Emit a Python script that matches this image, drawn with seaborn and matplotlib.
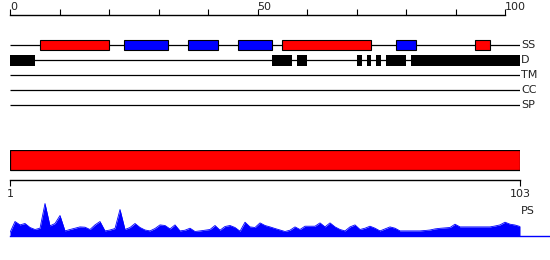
import numpy as np
import pandas as pd
import seaborn as sns
import matplotlib
matplotlib.use("Agg")
import matplotlib.pyplot as plt

# ---------------- data ----------------
LENGTH = 103
track_names = ["SS", "D", "TM", "CC", "SP"]

ss_start = [6, 23, 36, 46, 55, 78, 94]
ss_end = [20, 32, 42, 53, 73, 82, 97]
ss_type = ["helix", "strand", "strand", "strand", "helix", "strand", "helix"]

d_start = [0, 53, 58, 70, 72, 74, 76, 81]
d_end = [5, 57, 60, 71, 73, 75, 80, 103]

ruler_major = [0, 50, 100]
ruler_minor = [10, 20, 30, 40, 60, 70, 80, 90]

ps_ticks = [1, 103]
ps_values = [3, 14, 10.6, 12, 8, 6, 7.3, 32, 9.6, 12,
             20, 4.6, 6, 7.3, 8.6, 8.3, 6, 10.6, 14, 4.6,
             5.5, 7, 26, 6, 8, 12, 8, 5.5, 4.6, 7,
             10.6, 10, 6.6, 10.6, 4.6, 5.3, 7.3, 4, 4.6, 5.3,
             6, 10, 5.3, 9, 10, 8, 4.3, 13.3, 8.6, 8,
             12.6, 10, 8.6, 7, 5.5, 4, 5.3, 8.6, 6, 9.3,
             9.3, 9.3, 12.6, 8.6, 12.6, 8.6, 6, 4.6, 8.6, 10.6,
             6, 7.3, 9.3, 7.3, 4.6, 6.6, 8.6, 7.3, 4.6, 4.6,
             4.6, 4.6, 4.6, 5, 5.5, 6.6, 7.2, 7.6, 8, 11.3,
             8.6, 8.6, 8.6, 8.6, 8.6, 8.6, 8.6, 9.5, 10.6, 13.3,
             11.3, 10.5, 9]
ps_pos = list(range(1, LENGTH + 1))

colors = {"helix": "#ff0000", "strand": "#0000ff"}

# ---------------- style ----------------
sns.set_style("white")
plt.rcParams["font.family"] = ["DejaVu Sans"]
plt.rcParams["font.size"] = 8

W, H = 550, 260
fig = plt.figure(figsize=(W / 100, H / 100), dpi=100)


def ax_px(x0, y0, x1, y1):
    return fig.add_axes([x0 / W, 1 - y1 / H, (x1 - x0) / W, (y1 - y0) / H])


# ---------- ruler ----------
axr = ax_px(10, 10, 520, 15)
axr.set_xlim(0, LENGTH)
axr.set_ylim(0, 1)
for s in ["top", "left", "right"]:
    axr.spines[s].set_visible(False)
axr.spines["bottom"].set_bounds(0, 100)
axr.spines["bottom"].set_linewidth(1)
axr.spines["bottom"].set_color("black")
axr.set_yticks([])
axr.set_xticks(ruler_major)
axr.set_xticks(ruler_minor, minor=True)
axr.set_xticklabels([str(v) for v in ruler_major])
axr.tick_params(axis="x", which="both", direction="in", length=4.5, width=0.8,
                color="black", bottom=True, top=False,
                labelbottom=False, labeltop=True, pad=-1.5, labelsize=8,
                labelcolor="#222222")
for lab in axr.get_xticklabels():
    lab.set_horizontalalignment("left")

# ---------- tracks ----------
axt = ax_px(10, 30, 520, 115)
axt.set_xlim(0, LENGTH)
axt.set_ylim((115 - 45) / 15, -1)
axt.axis("off")
axt.hlines(range(len(track_names)), 0, LENGTH, color="black", lw=0.9, zorder=1)
for s, e, t in zip(ss_start, ss_end, ss_type):
    axt.barh(0, e - s, left=s, height=10 / 15, color=colors[t],
             edgecolor="black", linewidth=0.8, zorder=2)
for s, e in zip(d_start, d_end):
    axt.barh(1, e - s, left=s, height=11 / 15, color="black",
             edgecolor="black", linewidth=0, zorder=2)
for i, name in enumerate(track_names):
    axt.text(LENGTH + 0.2, i, name, va="center", ha="left", fontsize=8,
             color="#222222", clip_on=False)

# ---------- protein bar ----------
axb = ax_px(10, 150, 520, 180)
axb.set_xlim(1, LENGTH)
axb.set_ylim(0, 30)
for s in ["top", "left", "right"]:
    axb.spines[s].set_visible(False)
axb.spines["bottom"].set_linewidth(1)
axb.spines["bottom"].set_color("black")
axb.barh(20, LENGTH - 1, left=1, height=20, color="#ff0000",
         edgecolor="black", linewidth=0.9)
axb.set_yticks([])
axb.set_xticks(ps_ticks)
axb.set_xticklabels([str(v) for v in ps_ticks])
axb.tick_params(axis="x", direction="out", length=4.5, width=0.8,
                color="black", bottom=True, pad=2, labelsize=8,
                labelcolor="#222222")

# ---------- PS profile ----------
axp = ax_px(10, 199.5, 550, 235.5)
axp.set_xlim(1, 1 + 540 / 5)
axp.set_ylim(0, 36)
for s in ["top", "left", "right"]:
    axp.spines[s].set_visible(False)
axp.spines["bottom"].set_color("#0000ff")
axp.spines["bottom"].set_linewidth(1)
axp.set_xticks([])
axp.set_yticks([])
df = pd.DataFrame({"pos": ps_pos, "score": ps_values})
axp.fill_between(df["pos"], 0, df["score"], color="#0000ff", lw=0)
sns.lineplot(data=df, x="pos", y="score", ax=axp, color="#0000ff", lw=0.6)
axp.set_xlabel("")
axp.set_ylabel("")
fig.text(521 / W, 1 - 211 / H, "PS", ha="left", va="center", fontsize=8,
         color="#222222")

fig.savefig("out.png", dpi=100)
